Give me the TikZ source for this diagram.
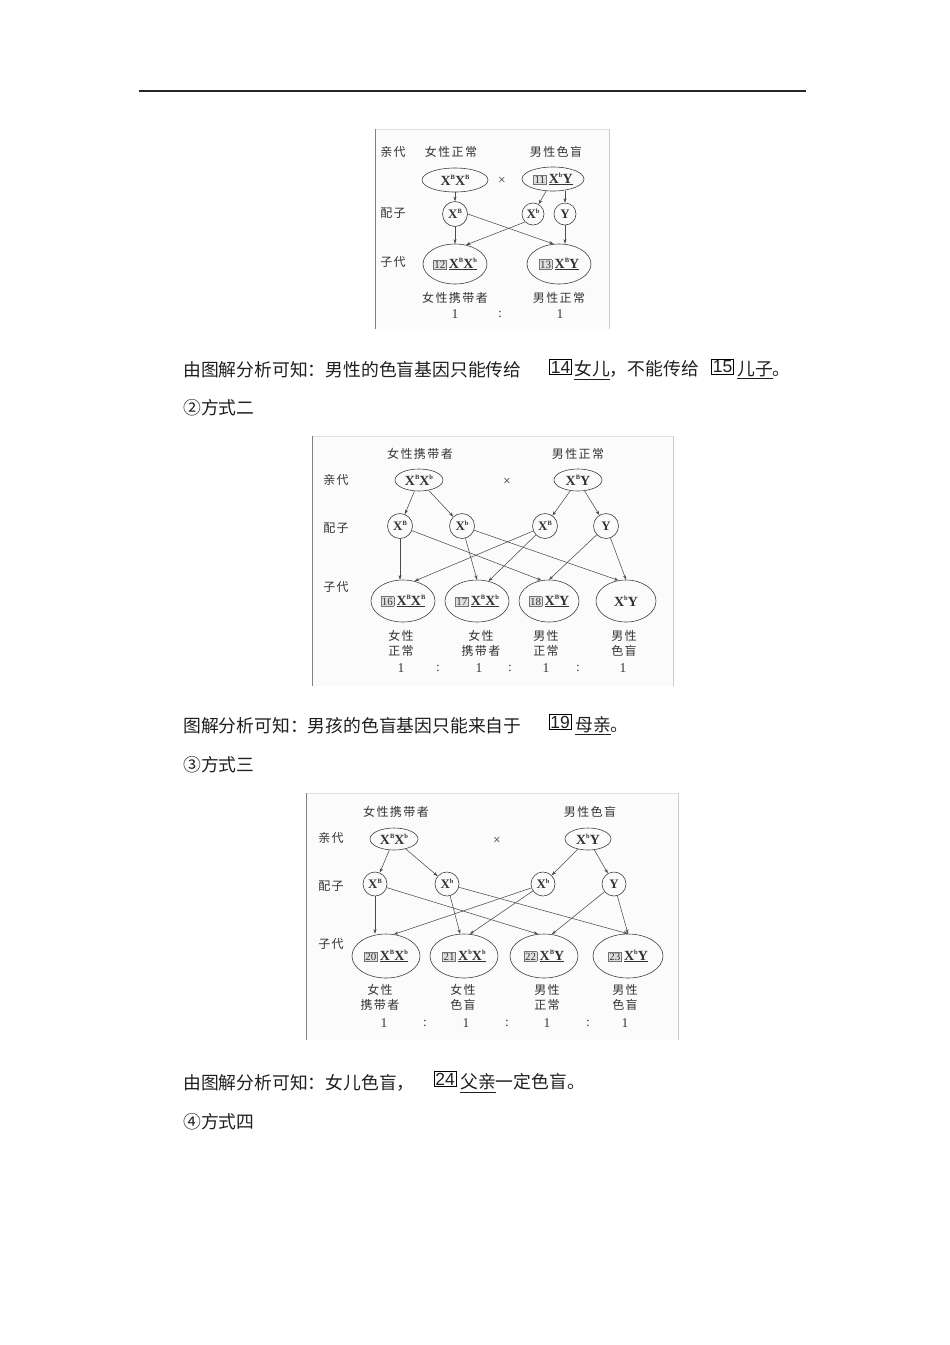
\documentclass[tikz,border=0pt]{standalone}
\usepackage{fontspec}
\setmainfont{Liberation Serif}
\newfontfamily\cjk{Noto Sans CJK SC}
\newfontfamily\cjkl[LetterSpace=12]{Noto Sans CJK SC}
\newfontfamily\numf{Liberation Sans}
\usetikzlibrary{shapes.geometric,arrows.meta}
\newcommand\Xs[1]{X\raisebox{0.9ex}{\fontsize{6.5}{6.5}\selectfont #1}}
\newcommand\nbx[1]{{\setlength{\fboxsep}{0.8pt}\setlength{\fboxrule}{0.5pt}\fcolorbox{black!55}{black!12}{\mdseries\fontsize{11}{11}\selectfont #1}}\,}
\tikzset{
  maintext/.style={font=\cjk\fontsize{17.8}{20}\selectfont, inner sep=0pt, anchor=west, text=black!88},
  nbox/.style={draw, line width=0.8pt, inner sep=1.2pt, font=\numf\fontsize{17.5}{17.5}\selectfont, text=black!88},
  lab/.style={font=\cjkl\fontsize{12}{15}\selectfont, text=black!80, inner sep=0pt},
  rat/.style={font=\fontsize{13.5}{13.5}\selectfont, text=black!78, inner sep=0pt},
  geno/.style={draw=black!75, ellipse, inner sep=0pt, line width=0.6pt, font=\bfseries\fontsize{14}{14}\selectfont, text=black!80},
  gam/.style={draw=black!75, circle, inner sep=0pt, line width=0.6pt, font=\bfseries\fontsize{13}{13}\selectfont, text=black!80},
  arr/.style={-{Stealth[length=4.5pt,width=3.2pt]}, line width=0.55pt, draw=black!70},
  framefill/.style={fill=black!1.5},
  frametop/.style={draw=black!12, line width=0.6pt},
  frameleft/.style={draw=black!50, line width=0.8pt},
  frameright/.style={draw=black!20, line width=0.7pt}
}
\begin{document}
\begin{tikzpicture}[x=1pt,y=-1pt]
\fill[white] (0,0) rectangle (950,1345);
\useasboundingbox (0,0) rectangle (950,1345);

% top rule
\draw[line width=1.2pt, black!85] (139,91) -- (806,91);

% ================= Diagram 1 =================
\fill[framefill] (375,129) rectangle (609,329);
\draw[frametop] (375,129) -- (609,129);
\draw[frameleft] (375,129) -- (375,329);
\draw[frameright] (609,129) -- (609,329);

\node[lab] (a-qd) at (393,152) {亲代};
\node[lab] (a-fl) at (451,152) {女性正常};
\node[lab] (a-ml) at (556,152) {男性色盲};
\node[geno, minimum width=66pt, minimum height=24pt] (aP1) at (455,180) {\Xs{B}\Xs{B}};
\node[rat] (a-x) at (502,181) {×};
\node[geno, minimum width=62pt, minimum height=24pt] (aP2) at (553,179) {\nbx{11}\underline{\Xs{b}Y}};
\node[lab] (a-pz) at (393,213) {配子};
\node[gam, minimum size=25pt] (ag1) at (455,214) {\Xs{B}};
\node[gam, minimum size=22pt] (ag2) at (533,214) {\Xs{b}};
\node[gam, minimum size=22pt] (ag3) at (565,214) {Y};
\node[lab] (a-zd) at (393,262) {子代};
\node[geno, minimum width=64pt, minimum height=40pt] (ac1) at (455,264) {\nbx{12}\underline{\Xs{B}\Xs{b}}};
\node[geno, minimum width=64pt, minimum height=40pt] (ac2) at (559,264) {\nbx{13}\underline{\Xs{B}Y}};
\node[lab] (a-l1) at (455,298) {女性携带者};
\node[lab] (a-l2) at (559,298) {男性正常};
\node[rat] (a-r1) at (455,314) {1};
\node[rat] (a-r2) at (500,314) {:};
\node[rat] (a-r3) at (560,314) {1};

\draw[arr] (aP1.south) -- (ag1.north);
\draw[arr] (aP2) -- (ag2);
\draw[arr] (aP2.south -| ag3.north) -- (ag3.north);
\draw[arr] (ag1.south) -- (ac1.north);
\draw[arr] (ag1.east) -- (ac2.105);
\draw[arr] (ag2.225) -- (ac1.60);
\draw[arr] (ag3.south) -- (ac2.north -| ag3.south);

% text lines
\node[maintext] (t1) at (183,370) {由图解分析可知：男性的色盲基因只能传给};
\node[nbox] (b14) at (560.5,367) {14};
\node[maintext] (t1b) at (574,370) {\underline{女儿}，不能传给};
\node[nbox] (b15) at (722.5,367) {15};
\node[maintext] (t1c) at (737,370) {\underline{儿子}。};
\node[maintext] (t2) at (183,408) {②方式二};

% ================= Diagram 2 =================
\fill[framefill] (312,436) rectangle (673,686);
\draw[frametop] (312,436) -- (673,436);
\draw[frameleft] (312,436) -- (312,686);
\draw[frameright] (673,436) -- (673,686);

\node[lab] (b-fl) at (420,454) {女性携带者};
\node[lab] (b-ml) at (578,454) {男性正常};
\node[lab] (b-qd) at (336,480) {亲代};
\node[geno, minimum width=48pt, minimum height=22pt] (bP1) at (419,480) {\Xs{B}\Xs{b}};
\node[rat] (b-x) at (507,482) {×};
\node[geno, minimum width=48pt, minimum height=22pt] (bP2) at (578,480) {\Xs{B}Y};
\node[lab] (b-pz) at (336,528) {配子};
\node[gam, minimum size=25pt] (bg1) at (400,526) {\Xs{B}};
\node[gam, minimum size=25pt] (bg2) at (462,526) {\Xs{b}};
\node[gam, minimum size=25pt] (bg3) at (545,526) {\Xs{B}};
\node[gam, minimum size=25pt] (bg4) at (606,526) {Y};
\node[lab] (b-zd) at (336,587) {子代};
\node[geno, minimum width=64pt, minimum height=42pt] (bc1) at (403,601) {\nbx{16}\underline{\Xs{B}\Xs{B}}};
\node[geno, minimum width=64pt, minimum height=42pt] (bc2) at (477,601) {\nbx{17}\underline{\Xs{B}\Xs{b}}};
\node[geno, minimum width=60pt, minimum height=42pt] (bc3) at (549,601) {\nbx{18}\underline{\Xs{B}Y}};
\node[geno, minimum width=60pt, minimum height=42pt] (bc4) at (626,601) {\Xs{b}Y};
\node[lab, align=center] (b-l1) at (401,643.5) {女性\\正常};
\node[lab, align=center] (b-l2) at (481,643.5) {女性\\携带者};
\node[lab, align=center] (b-l3) at (546,643.5) {男性\\正常};
\node[lab, align=center] (b-l4) at (624,643.5) {男性\\色盲};
\node[rat] (b-r1) at (401,668) {1};
\node[rat] (b-r2) at (438,668) {:};
\node[rat] (b-r3) at (479,668) {1};
\node[rat] (b-r4) at (510,668) {:};
\node[rat] (b-r5) at (546,668) {1};
\node[rat] (b-r6) at (578,668) {:};
\node[rat] (b-r7) at (623,668) {1};

\draw[arr] (bP1) -- (bg1);
\draw[arr] (bP1) -- (bg2);
\draw[arr] (bP2) -- (bg3);
\draw[arr] (bP2) -- (bg4);
\draw[arr] (bg1.south) -- (bc1.north -| bg1.south);
\draw[arr] (bg1) -- (bc3.110);
\draw[arr] (bg2) -- (bc2.north);
\draw[arr] (bg2) -- (bc4.110);
\draw[arr] (bg3) -- (bc1.60);
\draw[arr] (bg3) -- (bc2.60);
\draw[arr] (bg4) -- (bc3.north);
\draw[arr] (bg4) -- (bc4.north);

% text lines
\node[maintext] (t3) at (183,726) {图解分析可知：男孩的色盲基因只能来自于};
\node[nbox] (b19) at (560,722) {19};
\node[maintext] (t3b) at (575,726) {\underline{母亲}。};
\node[maintext] (t4) at (183,765) {③方式三};

% ================= Diagram 3 =================
\fill[framefill] (306,793) rectangle (678,1040);
\draw[frametop] (306,793) -- (678,793);
\draw[frameleft] (306,793) -- (306,1040);
\draw[frameright] (678,793) -- (678,1040);

\node[lab] (c-fl) at (396,812) {女性携带者};
\node[lab] (c-ml) at (590,812) {男性色盲};
\node[lab] (c-qd) at (331,838) {亲代};
\node[geno, minimum width=48pt, minimum height=22pt] (cP1) at (394,839) {\Xs{B}\Xs{b}};
\node[rat] (c-x) at (497,841) {×};
\node[geno, minimum width=46pt, minimum height=22pt] (cP2) at (588,839) {\Xs{b}Y};
\node[lab] (c-pz) at (331,886) {配子};
\node[gam, minimum size=24pt] (cg1) at (375,884) {\Xs{B}};
\node[gam, minimum size=24pt] (cg2) at (447,884) {\Xs{b}};
\node[gam, minimum size=24pt] (cg3) at (543,884) {\Xs{b}};
\node[gam, minimum size=24pt] (cg4) at (614,884) {Y};
\node[lab] (c-zd) at (331,944) {子代};
\node[geno, minimum width=68pt, minimum height=44pt] (cc1) at (386,956) {\nbx{20}\underline{\Xs{B}\Xs{b}}};
\node[geno, minimum width=68pt, minimum height=44pt] (cc2) at (464,956) {\nbx{21}\underline{\Xs{b}\Xs{b}}};
\node[geno, minimum width=68pt, minimum height=44pt] (cc3) at (544,956) {\nbx{22}\underline{\Xs{B}Y}};
\node[geno, minimum width=70pt, minimum height=44pt] (cc4) at (628,956) {\nbx{23}\underline{\Xs{b}Y}};
\node[lab, align=center] (c-l1) at (380,997.5) {女性\\携带者};
\node[lab, align=center] (c-l2) at (463,997.5) {女性\\色盲};
\node[lab, align=center] (c-l3) at (547,997.5) {男性\\正常};
\node[lab, align=center] (c-l4) at (625,997.5) {男性\\色盲};
\node[rat] (c-r1) at (384,1023) {1};
\node[rat] (c-r2) at (425,1023) {:};
\node[rat] (c-r3) at (466,1023) {1};
\node[rat] (c-r4) at (507,1023) {:};
\node[rat] (c-r5) at (547,1023) {1};
\node[rat] (c-r6) at (588,1023) {:};
\node[rat] (c-r7) at (625,1023) {1};

\draw[arr] (cP1) -- (cg1);
\draw[arr] (cP1) -- (cg2);
\draw[arr] (cP2) -- (cg3);
\draw[arr] (cP2) -- (cg4);
\draw[arr] (cg1.south) -- (cc1.north -| cg1.south);
\draw[arr] (cg1) -- (cc3.105);
\draw[arr] (cg2) -- (cc2.100);
\draw[arr] (cg2) -- (cc4.north);
\draw[arr] (cg3) -- (cc1.70);
\draw[arr] (cg3) -- (cc2.75);
\draw[arr] (cg4) -- (cc3.70);
\draw[arr] (cg4) -- (cc4.north);

% text lines
\node[maintext] (t5) at (183,1083) {由图解分析可知：女儿色盲，};
\node[nbox] (b24) at (445,1079) {24};
\node[maintext] (t5b) at (460,1083) {\underline{父亲}一定色盲。};
\node[maintext] (t6) at (183,1122) {④方式四};
\end{tikzpicture}
\end{document}
